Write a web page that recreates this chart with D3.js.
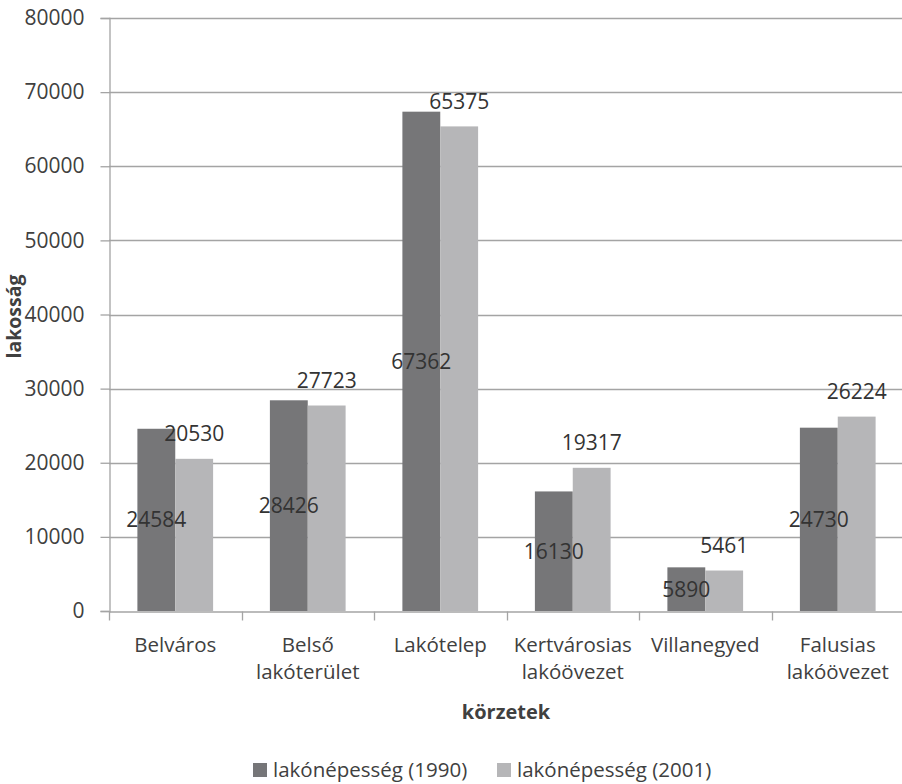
<!DOCTYPE html>
<html><head><meta charset="utf-8">
<script src="https://cdn.jsdelivr.net/npm/d3@7"></script>
<style>body{margin:0;background:#fff}svg text{font-family:"Open Sans",sans-serif;fill:#404040}</style>
</head><body><svg id="c" width="902" height="784"></svg>
<script>
const categories = ["Belváros", "Belső lakóterület", "Lakótelep", "Kertvárosias lakóövezet", "Villanegyed", "Falusias lakóövezet"];
const categoryLines = [["Belváros"], ["Belső", "lakóterület"], ["Lakótelep"], ["Kertvárosias", "lakóövezet"], ["Villanegyed"], ["Falusias", "lakóövezet"]];
const seriesNames = ["lakónépesség (1990)", "lakónépesség (2001)"];
const values1990 = [24584, 28426, 67362, 16130, 5890, 24730];
const values2001 = [20530, 27723, 65375, 19317, 5461, 26224];
const yTicks = [0, 10000, 20000, 30000, 40000, 50000, 60000, 70000, 80000];
const colors = ["#767678", "#b6b6b8"];

const svg = d3.select("#c");
const pLeft = 109, pRight = 904, pTop = 18, pBottom = 611;
const y = d3.scaleLinear().domain([0, 80000]).range([pBottom, pTop]);
const x0 = d3.scaleBand().domain(categories).range([pLeft, pRight]).paddingInner(0).paddingOuter(0);
const x1 = d3.scaleBand().domain(seriesNames).range([0, x0.bandwidth()]).paddingInner(0).paddingOuter(0.75);

// gridlines
svg.append("g").selectAll("line").data(yTicks.filter(t => t > 0)).join("line")
  .attr("x1", pLeft).attr("x2", pRight).attr("y1", d => Math.round(y(d)) + 0.5).attr("y2", d => Math.round(y(d)) + 0.5)
  .attr("stroke", "#a4a4a4").attr("stroke-width", 1.3);

// y axis
const ya = svg.append("g").attr("transform", `translate(${pLeft + 0.5},0)`)
  .call(d3.axisLeft(y).tickValues(yTicks).tickFormat(d3.format("d")).tickSize(9).tickPadding(16));
ya.select(".domain").attr("stroke", "#a4a4a4").attr("stroke-width", 1.3);
ya.selectAll(".tick line").attr("stroke", "#a4a4a4").attr("stroke-width", 1.3);
ya.selectAll(".tick text").attr("font-size", 21).attr("fill", "#404040").attr("font-family", "Open Sans");

// x axis
const xa = svg.append("g").attr("transform", `translate(0,${Math.round(y(0)) + 0.5})`)
  .call(d3.axisBottom(x0).tickValues([]).tickSizeOuter(0));
xa.select(".domain").attr("stroke", "#a4a4a4").attr("stroke-width", 1.3);
const bounds = categories.map(c => x0(c)).concat([pRight]);
xa.selectAll("line.b").data(bounds).join("line").attr("class", "b")
  .attr("x1", d => Math.round(d) + 0.5).attr("x2", d => Math.round(d) + 0.5).attr("y1", 0).attr("y2", 9)
  .attr("stroke", "#a4a4a4").attr("stroke-width", 1.3);

// category labels
const cl = svg.append("g").selectAll("text").data(categories).join("text")
  .attr("x", d => x0(d) + x0.bandwidth() / 2).attr("y", 652)
  .attr("text-anchor", "middle").attr("font-size", 20.5);
cl.each(function(d, i) {
  d3.select(this).selectAll("tspan").data(categoryLines[i]).join("tspan")
    .attr("x", x0(d) + x0.bandwidth() / 2).attr("dy", (t, j) => j === 0 ? 0 : 27).text(t => t);
});

// bars
const data = categories.map((c, i) => ({c, vals: [values1990[i], values2001[i]]}));
const g = svg.append("g").selectAll("g").data(data).join("g").attr("transform", d => `translate(${x0(d.c)},0)`);
g.selectAll("rect").data(d => d.vals.map((v, k) => ({v, k}))).join("rect")
  .attr("x", d => x1(seriesNames[d.k])).attr("width", x1.bandwidth())
  .attr("y", d => y(d.v)).attr("height", d => y(0) - y(d.v)).attr("fill", d => colors[d.k]);

// data labels
g.selectAll("text").data(d => d.vals.map((v, k) => ({v, k}))).join("text")
  .attr("x", d => x1(seriesNames[d.k]) + x1.bandwidth() / 2)
  .attr("y", d => d.k === 0 ? (y(d.v) + y(0)) / 2 : y(d.v) - 25)
  .attr("dy", "0.36em").attr("text-anchor", "middle").attr("font-size", 21)
  .style("fill", "#333").text(d => d.v);

// axis titles
svg.append("text").attr("transform", `translate(21,${(pTop + pBottom) / 2 + 2}) rotate(-90)`)
  .attr("text-anchor", "middle").attr("font-size", 19.5).attr("font-weight", "bold").text("lakosság");
svg.append("text").attr("x", (pLeft + pRight) / 2 - 0.5).attr("y", 719)
  .attr("text-anchor", "middle").attr("font-size", 20).attr("font-weight", "bold").text("körzetek");

// legend
const lx = [253, 497];
const lg = svg.append("g").selectAll("g").data(seriesNames).join("g").attr("transform", (d, i) => `translate(${lx[i]},0)`);
lg.append("rect").attr("x", 0).attr("y", 763).attr("width", 14).attr("height", 14).attr("fill", (d, i) => colors[i]);
lg.append("text").attr("x", 20).attr("y", 777).attr("font-size", 20.5).text(d => d);
</script></body></html>
